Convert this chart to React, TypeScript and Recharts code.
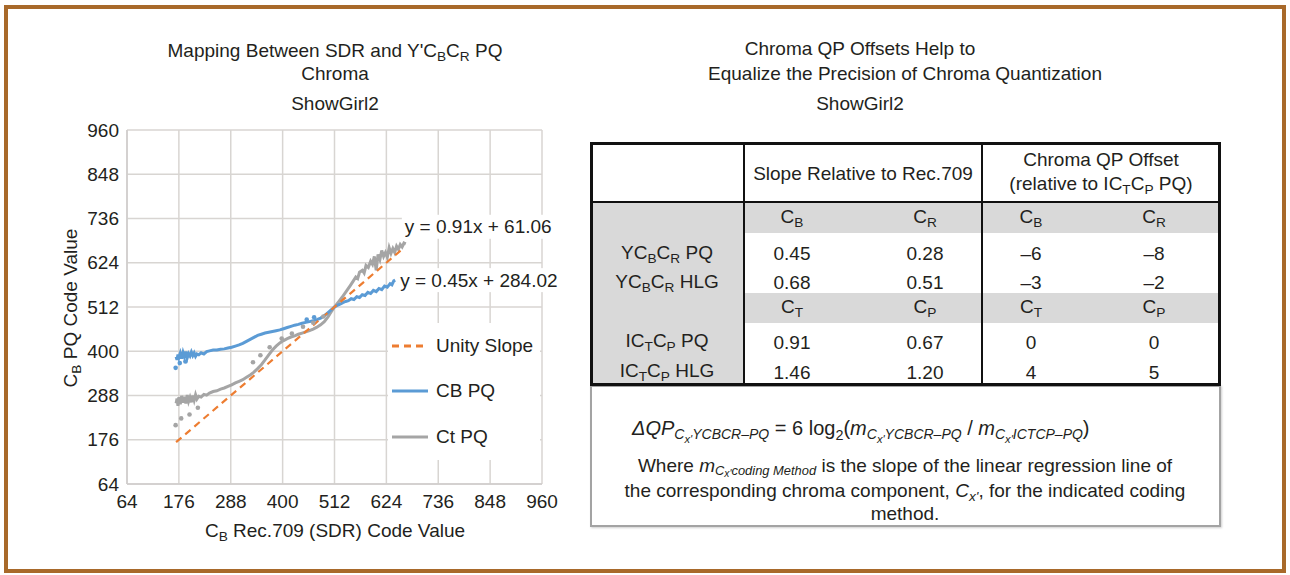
import React from "react"
import {
  ComposedChart,
  Line,
  Scatter,
  XAxis,
  YAxis,
  CartesianGrid,
  Legend,
  ReferenceDot
} from "recharts"

const FONT = "'Liberation Sans', Arial, Helvetica, sans-serif"
const INK = "#231f20"
const BLUE = "#5b9bd5"
const GRAY = "#a5a5a5"
const ORANGE = "#ed7d31"
const FRAME = "#a8692a"
const SHADE = "#d9d9d9"

// axis ticks (code values)
const axisTicks = [64, 176, 288, 400, 512, 624, 736, 848, 960]

// unity slope reference (y = x)
const unityX = [170, 655]

// CB PQ vs Rec.709 CB
const cbX = [
  170, 172, 174, 176, 179, 182, 185, 188, 191, 194, 197, 200, 203, 206, 209, 212, 215, 219, 224, 230,
  236, 242, 250, 258, 266, 274, 282, 290, 298, 306, 314, 322, 330, 338, 346, 354, 362, 370, 378, 386,
  394, 402, 410, 418, 426, 434, 442, 450, 458, 466, 474, 482, 490, 498, 506, 512, 518, 524, 530, 536,
  542, 548, 554, 560, 566, 572, 578, 584, 590, 596, 602, 608, 614, 620, 626, 632, 636, 640, 643
]
const cbY = [
  386, 378, 392, 384, 395, 381, 397, 386, 399, 383, 394, 388, 398, 389, 396, 387, 393, 391, 396, 393,
  399, 401, 403, 403, 405, 406, 408, 410, 413, 416, 420, 425, 430, 435, 440, 443, 446, 448, 450, 452,
  454, 457, 460, 463, 466, 468, 471, 473, 475, 477, 480, 484, 490, 498, 506, 512, 516, 519, 523, 526,
  528, 533, 531, 538, 536, 543, 541, 549, 546, 554, 551, 559, 556, 565, 562, 571, 568, 578, 580
]

// Ct PQ vs Rec.709 CB
const ctX = [
  170, 172, 174, 176, 179, 182, 185, 188, 191, 194, 197, 200, 203, 206, 209, 212, 215, 219, 224, 230,
  236, 242, 250, 258, 266, 274, 282, 290, 298, 306, 314, 322, 330, 338, 346, 354, 362, 370, 378, 386,
  394, 402, 410, 418, 426, 434, 442, 450, 458, 466, 474, 482, 490, 498, 504, 510, 516, 522, 528, 534,
  540, 546, 552, 558, 562, 566, 572, 576, 580, 585, 590, 594, 598, 602, 606, 610, 614, 618, 622, 626,
  630, 634, 638, 642, 646, 650, 654, 658, 662, 666
]
const ctY = [
  268, 280, 262, 284, 266, 287, 270, 285, 268, 289, 273, 283, 271, 288, 276, 290, 279, 286, 284, 291,
  289, 294, 298, 300, 304, 307, 311, 315, 320, 324, 328, 334, 340, 347, 356, 366, 378, 391, 403, 413,
  421, 427, 432, 436, 439, 443, 446, 449, 452, 456, 461, 467, 475, 487, 498, 509, 518, 527, 536, 546,
  556, 566, 577, 588, 584, 600, 605, 598, 617, 612, 628, 620, 640, 605, 645, 632, 655, 640, 650, 638,
  662, 648, 660, 650, 666, 658, 670, 664, 674, 672
]

// loose samples drawn as dots
const cbDotX = [169, 178, 190, 452, 468]
const cbDotY = [358, 370, 374, 480, 486]
const ctDotX = [169, 181, 199, 217, 336, 352, 372, 398, 420, 444, 466, 488]
const ctDotY = [213, 230, 240, 257, 372, 390, 410, 432, 445, 462, 472, 488]

// table values
const ycbcrMethods = ["PQ", "HLG"]
const ictcpMethods = ["PQ", "HLG"]
const ycbcrSlopeB = [0.45, 0.68]
const ycbcrSlopeR = [0.28, 0.51]
const ycbcrOffsetB = [-6, -3]
const ycbcrOffsetR = [-8, -2]
const ictcpSlopeT = [0.91, 1.46]
const ictcpSlopeP = [0.67, 1.2]
const ictcpOffsetT = [0, 4]
const ictcpOffsetP = [0, 5]

const unityData = unityX.map(v => ({ x: v, y: v }))
const cbData = cbX.map((x, i) => ({ x, y: cbY[i] }))
const ctData = ctX.map((x, i) => ({ x, y: ctY[i] }))
const cbDots = cbDotX.map((x, i) => ({ x, y: cbDotY[i] }))
const ctDots = ctDotX.map((x, i) => ({ x, y: ctDotY[i] }))

const legendItems = [
  { name: "Unity Slope", color: ORANGE, dash: "7 5" },
  { name: "CB PQ", color: BLUE, dash: undefined },
  { name: "Ct PQ", color: GRAY, dash: undefined }
]

const fmtOffset = (v: number) => (v < 0 ? `–${Math.abs(v)}` : String(v))

const Sub = ({ children, size = 0.72, drop = 0.32 }: any) => (
  <span style={{ fontSize: `${size}em`, position: "relative", top: `${drop}em` }}>{children}</span>
)

const Txt = ({ x, y, size = 19, anchor = "middle", children }: any) => {
  const tx = anchor === "middle" ? "-50%" : anchor === "end" ? "-100%" : "0"
  return (
    <div
      style={{
        position: "absolute",
        left: x,
        top: y,
        transform: `translate(${tx}, -50%)`,
        fontSize: size,
        lineHeight: 1,
        whiteSpace: "nowrap",
        color: INK
      }}
    >
      {children}
    </div>
  )
}

const EqLabel = (props: any) => {
  const { viewBox, text, dx, dy, w } = props
  const x = viewBox.x + dx
  const y = viewBox.y + dy
  return (
    <g>
      <rect x={x - 3} y={y - 12} width={w} height={24} fill="#fff" />
      <text x={x} y={y} dy="0.35em" fontSize={19} fill={INK}>
        {text}
      </text>
    </g>
  )
}

const LegendBox = () => (
  <div style={{ background: "#fff", width: 152 }}>
    {legendItems.map(item => (
      <div key={item.name} style={{ height: 45.5, display: "flex", alignItems: "center" }}>
        <svg width={40} height={6} style={{ marginLeft: 4 }}>
          <line x1={0} y1={3} x2={36} y2={3} stroke={item.color} strokeWidth={3} strokeDasharray={item.dash} />
        </svg>
        <span style={{ fontSize: 19, color: INK, marginLeft: 4 }}>{item.name}</span>
      </div>
    ))}
  </div>
)

const dot = (color: string) => (p: any) => <circle cx={p.cx} cy={p.cy} r={2.3} fill={color} />

function MappingChart() {
  return (
    <ComposedChart
      width={600}
      height={575}
      margin={{ top: 130, right: 58, bottom: 51, left: 67 }}
      style={{ position: "absolute", left: 0, top: 0 }}
    >
      <CartesianGrid stroke="#d8d5d2" strokeWidth={1.5} />
      <XAxis
        type="number"
        dataKey="x"
        domain={[64, 960]}
        ticks={axisTicks}
        interval={0}
        height={40}
        tickLine={false}
        tickMargin={5}
        axisLine={{ stroke: "#cfcccb", strokeWidth: 1.5 }}
        tick={{ fontSize: 19, fill: INK }}
      />
      <YAxis
        type="number"
        dataKey="y"
        domain={[64, 960]}
        ticks={axisTicks}
        interval={0}
        width={60}
        tickLine={false}
        axisLine={{ stroke: "#cfcccb", strokeWidth: 1.5 }}
        tick={{ fontSize: 19, fill: INK }}
      />
      <Scatter data={ctDots} dataKey="y" legendType="none" shape={dot(GRAY)} isAnimationActive={false} />
      <Scatter data={cbDots} dataKey="y" legendType="none" shape={dot(BLUE)} isAnimationActive={false} />
      <Line data={ctData} dataKey="y" name="Ct PQ" stroke={GRAY} strokeWidth={3} dot={false} isAnimationActive={false} />
      <Line data={cbData} dataKey="y" name="CB PQ" stroke={BLUE} strokeWidth={3} dot={false} isAnimationActive={false} />
      <Line
        data={unityData}
        dataKey="y"
        name="Unity Slope"
        stroke={ORANGE}
        strokeWidth={2.2}
        strokeDasharray="7 5"
        dot={false}
        isAnimationActive={false}
      />
      <ReferenceDot
        x={ctX[ctX.length - 1]}
        y={ctY[ctY.length - 1]}
        r={0}
        stroke="none"
        label={<EqLabel text="y = 0.91x + 61.06" dx={-1} dy={-17} w={154} />}
      />
      <ReferenceDot
        x={cbX[cbX.length - 1]}
        y={cbY[cbY.length - 1]}
        r={0}
        stroke="none"
        label={<EqLabel text="y = 0.45x + 284.02" dx={5} dy={0} w={166} />}
      />
      <Legend
        layout="horizontal"
        verticalAlign="middle"
        align="center"
        content={() => <LegendBox />}
        wrapperStyle={{ left: 388, top: 323, width: 152, height: 137 }}
      />
    </ComposedChart>
  )
}

function QpTable() {
  const colX = [792, 925, 1031, 1154]
  const ycY = [253, 282]
  const icY = [342, 372]
  return (
    <>
      <div
        style={{
          position: "absolute",
          left: 590,
          top: 385,
          width: 631,
          height: 142,
          boxSizing: "border-box",
          border: "2px solid #a3a3a3",
          boxShadow: "1px 1px 2px #cfcfcf",
          background: "#fff"
        }}
      />
      <div
        style={{
          position: "absolute",
          left: 590,
          top: 142,
          width: 631,
          height: 244,
          boxSizing: "border-box",
          border: "3px solid #111",
          background: "#fff"
        }}
      />
      {/* shaded areas */}
      <div style={{ position: "absolute", left: 593, top: 203, width: 151, height: 180, background: SHADE }} />
      <div style={{ position: "absolute", left: 744, top: 203, width: 474, height: 30, background: SHADE }} />
      <div style={{ position: "absolute", left: 744, top: 293, width: 474, height: 30, background: SHADE }} />
      {/* rules */}
      <div style={{ position: "absolute", left: 593, top: 201, width: 625, height: 2, background: "#111" }} />
      <div style={{ position: "absolute", left: 743, top: 145, width: 2, height: 238, background: "#111" }} />
      <div style={{ position: "absolute", left: 981, top: 145, width: 2, height: 238, background: "#111" }} />

      <Txt x={863} y={173}>Slope Relative to Rec.709</Txt>
      <Txt x={1101} y={159}>Chroma QP Offset</Txt>
      <Txt x={1101} y={183}>
        (relative to IC<Sub>T</Sub>C<Sub>P</Sub> PQ)
      </Txt>

      <Txt x={colX[0]} y={216}>C<Sub>B</Sub></Txt>
      <Txt x={colX[1]} y={216}>C<Sub>R</Sub></Txt>
      <Txt x={colX[2]} y={216}>C<Sub>B</Sub></Txt>
      <Txt x={colX[3]} y={216}>C<Sub>R</Sub></Txt>
      <Txt x={colX[0]} y={306}>C<Sub>T</Sub></Txt>
      <Txt x={colX[1]} y={306}>C<Sub>P</Sub></Txt>
      <Txt x={colX[2]} y={306}>C<Sub>T</Sub></Txt>
      <Txt x={colX[3]} y={306}>C<Sub>P</Sub></Txt>

      {ycbcrMethods.map((m, i) => (
        <React.Fragment key={`yc-${m}`}>
          <Txt x={667} y={ycY[i] - 1}>
            YC<Sub>B</Sub>C<Sub>R</Sub> {m}
          </Txt>
          <Txt x={colX[0]} y={ycY[i]}>{ycbcrSlopeB[i].toFixed(2)}</Txt>
          <Txt x={colX[1]} y={ycY[i]}>{ycbcrSlopeR[i].toFixed(2)}</Txt>
          <Txt x={colX[2]} y={ycY[i]}>{fmtOffset(ycbcrOffsetB[i])}</Txt>
          <Txt x={colX[3]} y={ycY[i]}>{fmtOffset(ycbcrOffsetR[i])}</Txt>
        </React.Fragment>
      ))}
      {ictcpMethods.map((m, i) => (
        <React.Fragment key={`ic-${m}`}>
          <Txt x={667} y={icY[i] - 2}>
            IC<Sub>T</Sub>C<Sub>P</Sub> {m}
          </Txt>
          <Txt x={colX[0]} y={icY[i]}>{ictcpSlopeT[i].toFixed(2)}</Txt>
          <Txt x={colX[1]} y={icY[i]}>{ictcpSlopeP[i].toFixed(2)}</Txt>
          <Txt x={colX[2]} y={icY[i]}>{fmtOffset(ictcpOffsetT[i])}</Txt>
          <Txt x={colX[3]} y={icY[i]}>{fmtOffset(ictcpOffsetP[i])}</Txt>
        </React.Fragment>
      ))}

      <Txt x={632} y={428} anchor="start" size={20}>
        <i>ΔQP</i>
        <Sub size={0.7}>
          <i>
            C<Sub size={0.8}>x'</Sub>YCBCR–PQ
          </i>
        </Sub>
        {" = 6 log"}
        <Sub>2</Sub>(<i>m</i>
        <Sub size={0.7}>
          <i>
            C<Sub size={0.8}>x'</Sub>YCBCR–PQ
          </i>
        </Sub>
        {" / "}
        <i>m</i>
        <Sub size={0.7}>
          <i>
            C<Sub size={0.8}>x'</Sub>ICTCP–PQ
          </i>
        </Sub>
        )
      </Txt>
      <Txt x={905} y={465}>
        Where <i>m</i>
        <Sub size={0.68} drop={0.22}>
          <i>
            C<Sub size={0.8} drop={0.2}>x'</Sub>coding Method
          </i>
        </Sub>{" "}
        is the slope of the linear regression line of
      </Txt>
      <Txt x={905} y={490}>
        the corresponding chroma component, <i>C</i>
        <Sub>
          <i>x'</i>
        </Sub>
        , for the indicated coding
      </Txt>
      <Txt x={905} y={513}>method.</Txt>
    </>
  )
}

export default function App() {
  return (
    <div
      style={{
        position: "absolute",
        left: 0,
        top: 0,
        width: 1290,
        height: 575,
        background: "#fff",
        fontFamily: FONT,
        color: INK,
        overflow: "hidden"
      }}
    >
      <div
        style={{
          position: "absolute",
          left: 4,
          top: 5,
          width: 1282,
          height: 568,
          boxSizing: "border-box",
          border: `4px solid ${FRAME}`
        }}
      />

      <Txt x={335} y={50}>
        Mapping Between SDR and Y'C<Sub>B</Sub>C<Sub>R</Sub> PQ
      </Txt>
      <Txt x={335} y={73}>Chroma</Txt>
      <Txt x={335} y={103}>ShowGirl2</Txt>

      <Txt x={860} y={48}>Chroma QP Offsets Help to</Txt>
      <Txt x={905} y={73}>Equalize the Precision of Chroma Quantization</Txt>
      <Txt x={860} y={103}>ShowGirl2</Txt>

      <MappingChart />

      <div
        style={{
          position: "absolute",
          left: 70,
          top: 308,
          transform: "translate(-50%, -50%) rotate(-90deg)",
          fontSize: 19,
          lineHeight: 1,
          whiteSpace: "nowrap"
        }}
      >
        C<Sub>B</Sub> PQ Code Value
      </div>
      <Txt x={335} y={530}>
        C<Sub>B</Sub> Rec.709 (SDR) Code Value
      </Txt>

      <QpTable />
    </div>
  )
}
